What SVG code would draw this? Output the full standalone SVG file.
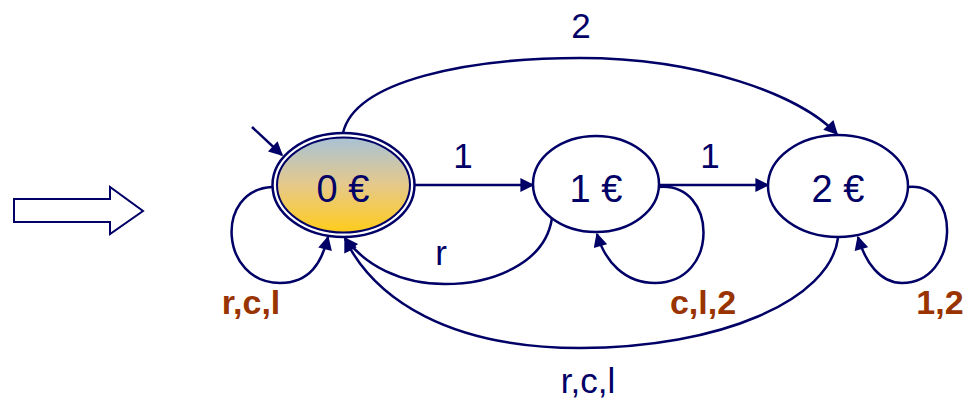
<svg xmlns="http://www.w3.org/2000/svg" width="971" height="401" viewBox="0 0 971 401">
<style>
.lbl{font-family:"Liberation Sans",Arial,sans-serif;font-size:35px;fill:#000066;text-anchor:middle}
.sl{font-family:"Liberation Sans",Arial,sans-serif;font-size:38px;fill:#000066;text-anchor:middle}
.bl{font-family:"Liberation Sans",Arial,sans-serif;font-size:34px;font-weight:bold;fill:#993300;text-anchor:middle}
.st{fill:#fff;stroke:#000066;stroke-width:2.5}
.edge{fill:none;stroke:#000066;stroke-width:2.5;marker-end:url(#ah)}
</style>
<defs>
<marker id="ah" viewBox="0 0 10 10" refX="9" refY="5" markerWidth="16" markerHeight="14" markerUnits="userSpaceOnUse" orient="auto">
<path d="M0,0 L10,5 L0,10 z" fill="#000066"/>
</marker>
<linearGradient id="g0" x1="0" y1="0" x2="0" y2="1">
<stop offset="0" stop-color="#a8c2d6"/>
<stop offset="0.5" stop-color="#e6c98a"/>
<stop offset="1" stop-color="#ffcc1a"/>
</linearGradient>
</defs>
<polygon id="bigarrow" points="14,199 110,199 110,187 143,211 110,234 110,222 14,222" fill="#fff" stroke="#000066" stroke-width="2"/>
<g id="connectors">
<line class="edge" x1="252" y1="127" x2="282" y2="155"/>
<line class="edge" x1="415" y1="185" x2="533" y2="185"/>
<line class="edge" x1="659" y1="185" x2="768" y2="185"/>
<path class="edge" d="M343,133 C355,80 470,58 580,58 C700,58 800,95 837,134"/>
<path class="edge" d="M272,187 C214,190 220,283 280,283 C310,283 322,262 328,237"/>
<path class="edge" d="M552,218 C545,265 490,284 445,284 C400,284 365,265 345,238"/>
<path class="edge" d="M838,238 C830,300 720,348 580,348 C450,348 375,300 345,239"/>
<path class="edge" d="M659,187 C718,182 720,283 655,283 C625,283 605,262 597,234"/>
<path class="edge" d="M908,187 C962,182 960,283 902,283 C880,283 865,262 858,237"/>
</g>
<g id="s0">
<ellipse class="st" cx="343.5" cy="185" rx="71" ry="52"/>
<ellipse cx="343.5" cy="185" rx="66.5" ry="47.5" fill="url(#g0)" stroke="#000066" stroke-width="2"/>
<text class="sl" x="343" y="202">0 €</text>
</g>
<g id="s1">
<ellipse class="st" cx="596" cy="184" rx="63" ry="48"/>
<text class="sl" x="596" y="202">1 €</text>
</g>
<g id="s2">
<ellipse class="st" cx="838" cy="186" rx="70" ry="51"/>
<text class="sl" x="838" y="202">2 €</text>
</g>
<g id="labels">
<text class="lbl" x="463" y="168">1</text>
<text class="lbl" x="710" y="168">1</text>
<text class="lbl" x="581" y="38">2</text>
<text class="lbl" x="441" y="265">r</text>
<text class="lbl" x="588" y="393">r,c,l</text>
<text class="bl" x="251" y="314">r,c,l</text>
<text class="bl" x="703" y="314">c,l,2</text>
<text class="bl" x="940" y="314">1,2</text>
</g>
</svg>
